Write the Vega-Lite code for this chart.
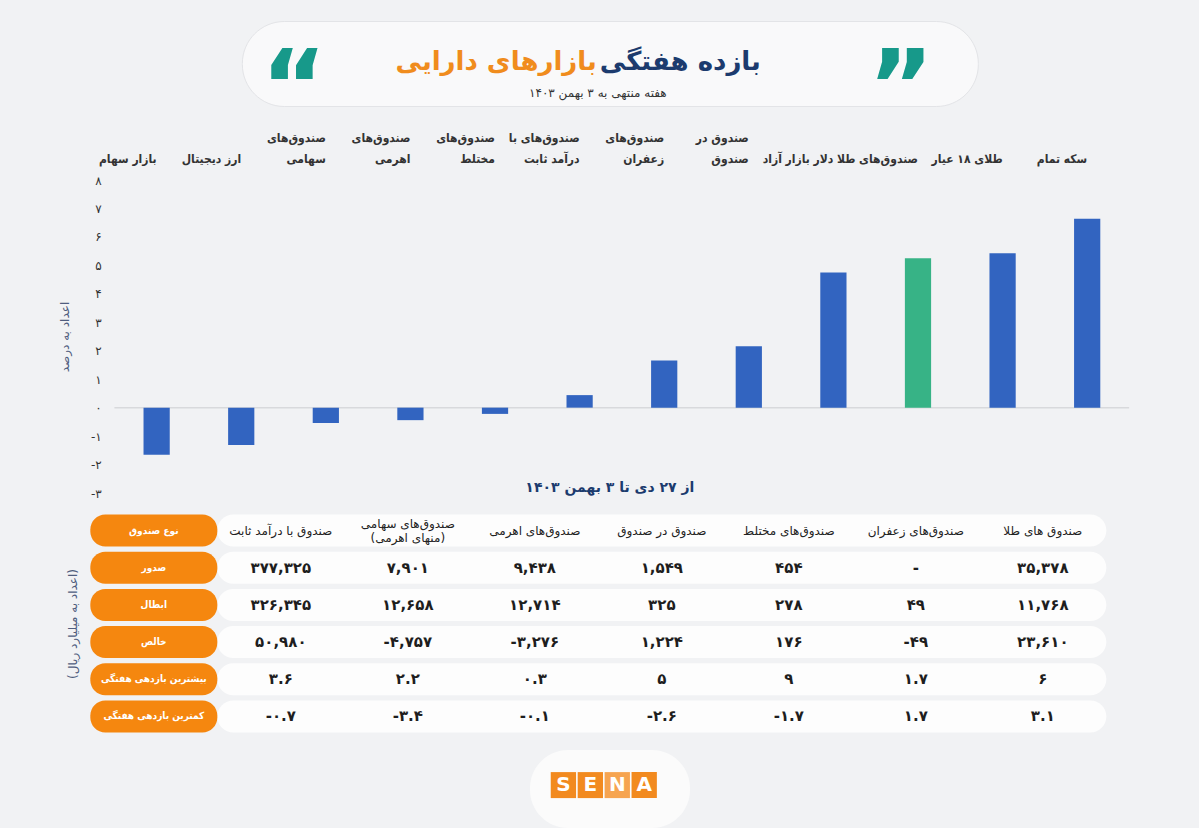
{
  "$schema": "https://vega.github.io/schema/vega-lite/v6.json",
  "background": "#f1f2f4",
  "padding": {"left": 58, "right": 69, "top": 20, "bottom": 0},
  "config": {"font": "DejaVu Sans", "view": {"stroke": null}},
  "spacing": 15,
  "center": true,
  "vconcat": [
    {
      "spacing": -10,
      "center": true,
      "vconcat": [
        {
          "width": 736,
          "height": 85,
          "view": {"fill": "#f9f9fa", "cornerRadius": 42, "stroke": "#e3e4e7"},
          "data": {"values": [{}]},
          "layer": [
            {"mark": {"type": "text", "text": "بازده هفتگی", "align": "left", "baseline": "middle", "dx": -10, "dy": -2, "fontSize": 26, "fontWeight": "bold", "color": "#1c3b6e"}},
            {"mark": {"type": "text", "text": "بازارهای دارایی", "align": "right", "baseline": "middle", "dx": -13, "dy": -2, "fontSize": 26, "fontWeight": "bold", "color": "#f08c1d"}},
            {"mark": {"type": "text", "text": "هفته منتهی به ۳ بهمن ۱۴۰۳", "align": "center", "baseline": "middle", "dx": -12, "dy": 29, "fontSize": 12, "color": "#333333"}},
            {"mark": {"type": "text", "text": "“", "align": "center", "baseline": "middle", "dx": -316, "dy": 27, "fontSize": 100, "fontWeight": "bold", "color": "#17998a"}},
            {"mark": {"type": "text", "text": "”", "align": "center", "baseline": "middle", "dx": 291, "dy": 27, "fontSize": 100, "fontWeight": "bold", "color": "#17998a"}}
          ]
        },
        {
          "spacing": 13,
          "vconcat": [
            {
              "width": 1039,
              "height": 313,
              "title": {"text": "از ۲۷ دی تا ۳ بهمن ۱۴۰۳", "orient": "bottom", "offset": -18, "fontSize": 14, "fontWeight": "bold", "color": "#1c3b6e", "anchor": "middle"},
              "data": {"values": [
                {"name": "بازار سهام", "value": -1.66},
                {"name": "ارز دیجیتال", "value": -1.31},
                {"name": "صندوق\u200cهای\nسهامی", "value": -0.54},
                {"name": "صندوق\u200cهای\nاهرمی", "value": -0.44},
                {"name": "صندوق\u200cهای\nمختلط", "value": -0.22},
                {"name": "صندوق\u200cهای با\nدرآمد ثابت", "value": 0.44},
                {"name": "صندوق\u200cهای\nزعفران", "value": 1.66},
                {"name": "صندوق در\nصندوق", "value": 2.16},
                {"name": "دلار بازار آزاد", "value": 4.75},
                {"name": "صندوق\u200cهای طلا", "value": 5.25},
                {"name": "طلای ۱۸ عیار", "value": 5.43},
                {"name": "سکه تمام", "value": 6.64}
              ]},
              "layer": [
                {
                  "data": {"values": [{"from": "بازار سهام", "to": "سکه تمام"}]},
                  "mark": {"type": "rule", "color": "#d8d9dc", "strokeWidth": 1.5},
                  "encoding": {
                    "x": {"field": "from", "type": "nominal", "bandPosition": -1.11,
                      "scale": {"domain": ["بازار سهام", "ارز دیجیتال", "صندوق\u200cهای\nسهامی", "صندوق\u200cهای\nاهرمی", "صندوق\u200cهای\nمختلط", "صندوق\u200cهای با\nدرآمد ثابت", "صندوق\u200cهای\nزعفران", "صندوق در\nصندوق", "دلار بازار آزاد", "صندوق\u200cهای طلا", "طلای ۱۸ عیار", "سکه تمام"],
                        "paddingInner": 0.69, "paddingOuter": 0.486, "align": 0.647}},
                    "x2": {"field": "to", "bandPosition": 2.1},
                    "y": {"datum": 0, "type": "quantitative"}
                  }
                },
                {
                  "mark": {"type": "bar"},
                  "encoding": {
                    "x": {"field": "name", "type": "nominal", "sort": null,
                      "axis": {"orient": "top", "title": null, "labelAngle": 0, "domain": false, "ticks": false, "labelPadding": 48, "labelBaseline": "top",
                        "labelExpr": "length(split(datum.label, '\\n')) > 1 ? split(datum.label, '\\n') : ['', datum.label]",
                        "labelFont": "DejaVu Sans Condensed, DejaVu Sans", "labelFontSize": 12, "labelFontWeight": "bold", "labelColor": "#333333",
                        "labelLineHeight": 21, "labelLimit": 0, "labelOverlap": false}},
                    "y": {"field": "value", "type": "quantitative",
                      "scale": {"domain": [-3, 8], "nice": false, "zero": false},
                      "axis": {"values": [-3, -2, -1, 0, 1, 2, 3, 4, 5, 6, 7, 8], "tickCount": 12, "grid": false, "domain": false, "ticks": false,
                        "offset": -24, "labelPadding": 13, "labelFontSize": 12, "labelColor": "#333333", "labelOverlap": false,
                        "labelExpr": "(datum.value < 0 ? '-' : '') + ['۰','۱','۲','۳','۴','۵','۶','۷','۸'][abs(datum.value)]",
                        "title": "اعداد به درصد", "titleFontSize": 12, "titleFontWeight": "normal", "titleColor": "#4f5d7e", "titlePadding": 19}},
                    "color": {"condition": {"test": "datum.name === 'صندوق\u200cهای طلا'", "value": "#37b386"}, "value": "#3264c0"}
                  }
                }
              ]
            },
            {
              "width": 1016,
              "height": 223,
              "encoding": {
                "y": {"field": "row", "type": "nominal",
                  "scale": {"domain": ["نوع صندوق", "صدور", "ابطال", "خالص", "بیشترین بازدهی هفتگی", "کمترین بازدهی هفتگی"], "paddingInner": 0.14, "paddingOuter": 0.07},
                  "axis": {"labels": false, "ticks": false, "domain": false, "grid": false, "title": "(اعداد به میلیارد ریال)", "titleFontSize": 12, "titleFontWeight": "normal", "titleColor": "#4f5d7e", "titlePadding": 11}}
              },
              "layer": [
                {
                  "data": {"values": [
                    {"row": "نوع صندوق", "from": "صندوق با درآمد ثابت", "to": "صندوق های طلا"},
                    {"row": "صدور", "from": "صندوق با درآمد ثابت", "to": "صندوق های طلا"},
                    {"row": "ابطال", "from": "صندوق با درآمد ثابت", "to": "صندوق های طلا"},
                    {"row": "خالص", "from": "صندوق با درآمد ثابت", "to": "صندوق های طلا"},
                    {"row": "بیشترین بازدهی هفتگی", "from": "صندوق با درآمد ثابت", "to": "صندوق های طلا"},
                    {"row": "کمترین بازدهی هفتگی", "from": "صندوق با درآمد ثابت", "to": "صندوق های طلا"}
                  ]},
                  "mark": {"type": "rect", "color": "#fdfdfd", "cornerRadius": 16},
                  "encoding": {
                    "x": {"field": "from", "type": "nominal", "bandPosition": 0,
                      "scale": {"domain": ["ردیف", "صندوق با درآمد ثابت", "صندوق\u200cهای سهامی", "صندوق\u200cهای اهرمی", "صندوق در صندوق", "صندوق\u200cهای مختلط", "صندوق\u200cهای زعفران", "صندوق های طلا"], "paddingInner": 0, "paddingOuter": 0},
                      "axis": null},
                    "x2": {"field": "to", "bandPosition": 1}
                  }
                },
                {
                  "data": {"name": "cells"},
                  "transform": [{"filter": "datum.col === 'ردیف'"}],
                  "mark": {"type": "rect", "color": "#f5870f", "cornerRadius": 15},
                  "encoding": {"x": {"field": "col", "type": "nominal", "axis": null}}
                },
                {
                  "data": {"name": "cells"},
                  "transform": [{"filter": "datum.col === 'ردیف'"}],
                  "mark": {"type": "text", "color": "#ffffff", "font": "DejaVu Sans Condensed, DejaVu Sans", "fontSize": 10, "fontWeight": "bold"},
                  "encoding": {"x": {"field": "col", "type": "nominal", "axis": null}, "text": {"field": "text"}}
                },
                {
                  "data": {"name": "cells"},
                  "transform": [{"filter": "datum.col !== 'ردیف' && datum.row === 'نوع صندوق' && !isArray(datum.text)"}],
                  "mark": {"type": "text", "color": "#222222", "fontSize": 12},
                  "encoding": {"x": {"field": "col", "type": "nominal", "axis": null}, "text": {"field": "text"}}
                },
                {
                  "data": {"name": "cells"},
                  "transform": [{"filter": "datum.col !== 'ردیف' && datum.row === 'نوع صندوق' && isArray(datum.text)"}],
                  "mark": {"type": "text", "color": "#222222", "fontSize": 12, "lineHeight": 14, "dy": -7},
                  "encoding": {"x": {"field": "col", "type": "nominal", "axis": null}, "text": {"field": "text"}}
                },
                {
                  "data": {"name": "cells"},
                  "transform": [{"filter": "datum.col !== 'ردیف' && datum.row !== 'نوع صندوق'"}],
                  "mark": {"type": "text", "color": "#1e1e1e", "fontSize": 15, "fontWeight": "bold"},
                  "encoding": {"x": {"field": "col", "type": "nominal", "axis": null}, "text": {"field": "text"}}
                }
              ]
            }
          ]
        }
      ]
    },
    {
      "width": 160,
      "height": 78,
      "view": {"fill": "#fbfbfb", "cornerRadius": 38, "stroke": null},
      "data": {"values": [{"letter": "S"}, {"letter": "E"}, {"letter": "N"}, {"letter": "A"}]},
      "encoding": {
        "x": {"field": "letter", "type": "nominal", "sort": null, "axis": null, "scale": {"paddingInner": 0.06, "paddingOuter": 1.35, "align": 0.385}}
      },
      "layer": [
        {
          "mark": {"type": "rect"},
          "encoding": {
            "y": {"datum": 2.15, "type": "quantitative", "scale": {"domain": [0, 3], "nice": false}, "axis": null},
            "y2": {"datum": 1.15},
            "color": {"condition": {"test": "datum.letter === 'N'", "value": "#f6a450"}, "value": "#f28a1f"}
          }
        },
        {
          "mark": {"type": "text", "color": "#ffffff", "fontSize": 20, "fontWeight": "bold", "baseline": "middle"},
          "encoding": {"y": {"datum": 1.65, "type": "quantitative"}, "text": {"field": "letter"}}
        }
      ]
    }
  ],
  "datasets": {
    "cells": [
      {"row": "نوع صندوق", "col": "ردیف", "text": "نوع صندوق"},
      {"row": "صدور", "col": "ردیف", "text": "صدور"},
      {"row": "ابطال", "col": "ردیف", "text": "ابطال"},
      {"row": "خالص", "col": "ردیف", "text": "خالص"},
      {"row": "بیشترین بازدهی هفتگی", "col": "ردیف", "text": "بیشترین بازدهی هفتگی"},
      {"row": "کمترین بازدهی هفتگی", "col": "ردیف", "text": "کمترین بازدهی هفتگی"},

      {"row": "نوع صندوق", "col": "صندوق با درآمد ثابت", "text": "صندوق با درآمد ثابت"},
      {"row": "نوع صندوق", "col": "صندوق\u200cهای سهامی", "text": ["صندوق\u200cهای سهامی", "(منهای اهرمی)"]},
      {"row": "نوع صندوق", "col": "صندوق\u200cهای اهرمی", "text": "صندوق\u200cهای اهرمی"},
      {"row": "نوع صندوق", "col": "صندوق در صندوق", "text": "صندوق در صندوق"},
      {"row": "نوع صندوق", "col": "صندوق\u200cهای مختلط", "text": "صندوق\u200cهای مختلط"},
      {"row": "نوع صندوق", "col": "صندوق\u200cهای زعفران", "text": "صندوق\u200cهای زعفران"},
      {"row": "نوع صندوق", "col": "صندوق های طلا", "text": "صندوق های طلا"},

      {"row": "صدور", "col": "صندوق با درآمد ثابت", "text": "۳۷۷,۳۲۵"},
      {"row": "صدور", "col": "صندوق\u200cهای سهامی", "text": "۷,۹۰۱"},
      {"row": "صدور", "col": "صندوق\u200cهای اهرمی", "text": "۹,۴۳۸"},
      {"row": "صدور", "col": "صندوق در صندوق", "text": "۱,۵۴۹"},
      {"row": "صدور", "col": "صندوق\u200cهای مختلط", "text": "۴۵۴"},
      {"row": "صدور", "col": "صندوق\u200cهای زعفران", "text": "-"},
      {"row": "صدور", "col": "صندوق های طلا", "text": "۳۵,۳۷۸"},

      {"row": "ابطال", "col": "صندوق با درآمد ثابت", "text": "۳۲۶,۳۴۵"},
      {"row": "ابطال", "col": "صندوق\u200cهای سهامی", "text": "۱۲,۶۵۸"},
      {"row": "ابطال", "col": "صندوق\u200cهای اهرمی", "text": "۱۲,۷۱۴"},
      {"row": "ابطال", "col": "صندوق در صندوق", "text": "۳۲۵"},
      {"row": "ابطال", "col": "صندوق\u200cهای مختلط", "text": "۲۷۸"},
      {"row": "ابطال", "col": "صندوق\u200cهای زعفران", "text": "۴۹"},
      {"row": "ابطال", "col": "صندوق های طلا", "text": "۱۱,۷۶۸"},

      {"row": "خالص", "col": "صندوق با درآمد ثابت", "text": "۵۰,۹۸۰"},
      {"row": "خالص", "col": "صندوق\u200cهای سهامی", "text": "-۴,۷۵۷"},
      {"row": "خالص", "col": "صندوق\u200cهای اهرمی", "text": "-۳,۲۷۶"},
      {"row": "خالص", "col": "صندوق در صندوق", "text": "۱,۲۲۴"},
      {"row": "خالص", "col": "صندوق\u200cهای مختلط", "text": "۱۷۶"},
      {"row": "خالص", "col": "صندوق\u200cهای زعفران", "text": "-۴۹"},
      {"row": "خالص", "col": "صندوق های طلا", "text": "۲۳,۶۱۰"},

      {"row": "بیشترین بازدهی هفتگی", "col": "صندوق با درآمد ثابت", "text": "۳.۶"},
      {"row": "بیشترین بازدهی هفتگی", "col": "صندوق\u200cهای سهامی", "text": "۲.۲"},
      {"row": "بیشترین بازدهی هفتگی", "col": "صندوق\u200cهای اهرمی", "text": "۰.۳"},
      {"row": "بیشترین بازدهی هفتگی", "col": "صندوق در صندوق", "text": "۵"},
      {"row": "بیشترین بازدهی هفتگی", "col": "صندوق\u200cهای مختلط", "text": "۹"},
      {"row": "بیشترین بازدهی هفتگی", "col": "صندوق\u200cهای زعفران", "text": "۱.۷"},
      {"row": "بیشترین بازدهی هفتگی", "col": "صندوق های طلا", "text": "۶"},

      {"row": "کمترین بازدهی هفتگی", "col": "صندوق با درآمد ثابت", "text": "-۰.۷"},
      {"row": "کمترین بازدهی هفتگی", "col": "صندوق\u200cهای سهامی", "text": "-۳.۴"},
      {"row": "کمترین بازدهی هفتگی", "col": "صندوق\u200cهای اهرمی", "text": "-۰.۱"},
      {"row": "کمترین بازدهی هفتگی", "col": "صندوق در صندوق", "text": "-۲.۶"},
      {"row": "کمترین بازدهی هفتگی", "col": "صندوق\u200cهای مختلط", "text": "-۱.۷"},
      {"row": "کمترین بازدهی هفتگی", "col": "صندوق\u200cهای زعفران", "text": "۱.۷"},
      {"row": "کمترین بازدهی هفتگی", "col": "صندوق های طلا", "text": "۳.۱"}
    ]
  }
}
